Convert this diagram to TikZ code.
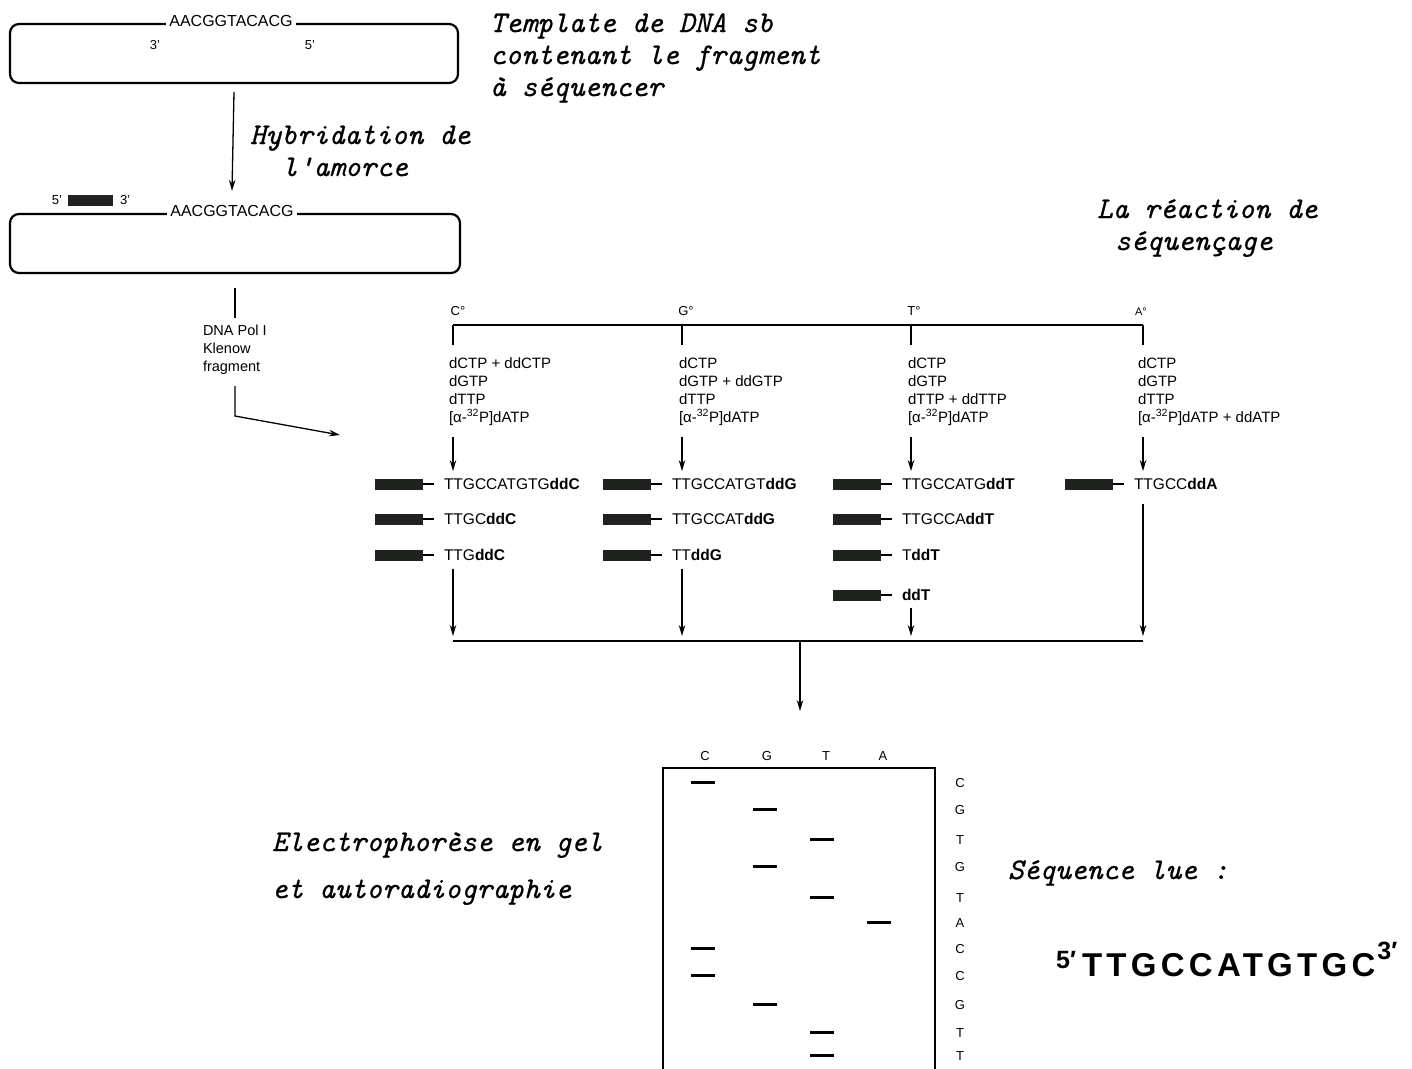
\documentclass[tikz,border=0pt]{standalone}
\usepackage{fontspec}
\newfontfamily\hv{Liberation Sans}
\newfontfamily\hvsp[LetterSpace=13]{Liberation Sans}
\newfontfamily\scr{lmmono10-italic}[Extension=.otf, FakeBold=0.7]
\usetikzlibrary{arrows.meta,calc}
\newcommand\fragm[4]{%
  \node[primer, anchor=west] (#1p) at (#2,#3) {};
  \draw[dashln] (#1p.east) -- ++(11,0);
  \node[fragtext, anchor=west] (#1) at ($(#1p.east)+(21,0)$) {#4};}
\begin{document}
\begin{tikzpicture}[x=1pt,y=-1pt,
  every node/.style={inner sep=0pt, outer sep=0pt},
  sans/.style={font=\hv\fontsize{15}{18}\selectfont},
  fragtext/.style={font=\hv\fontsize{15.5}{18}\selectfont},
  small/.style={font=\hv\fontsize{13}{16}\selectfont},
  script/.style={font=\scr\fontsize{30}{33}\selectfont},
  arr/.style={-{Stealth[length=11pt,width=6.5pt]}, line width=1.3pt},
  ln/.style={line width=1.8pt},
  dashln/.style={line width=1.3pt},
  tmplbox/.style={draw, line width=2.2pt, rounded corners=9pt},
  primer/.style={fill={rgb,255:red,32;green,34;blue,32}, minimum width=48pt, minimum height=11pt},
  band/.style={fill=black, minimum width=24pt, minimum height=3pt},
]
\useasboundingbox (0,0) rectangle (1412,1068);

% ---------- template ----------
\node[tmplbox, minimum width=448pt, minimum height=59pt] (tmpl1) at (234,53.5) {};
\node[font=\hv\fontsize{16}{18}\selectfont, fill=white, inner xsep=3pt, inner ysep=1pt, anchor=base] (seq1) at (231,26) {AACGGTACACG};
\node[small] (t3) at (155,45) {3’};
\node[small] (t5) at (310,45) {5’};

\node[script, anchor=base west] (tpA) at (490,32) {Template de DNA sb};
\node[script, anchor=base west] (tpB) at (490,64) {contenant le fragment};
\node[script, anchor=base west] (tpC) at (490,96) {à séquencer};

% ---------- hybridation ----------
\node[tmplbox, minimum width=450pt, minimum height=59pt] (tmpl2) at (235,243.5) {};
\node[font=\hv\fontsize{16}{18}\selectfont, fill=white, inner xsep=3pt, inner ysep=1pt, anchor=base] (seq2) at (232,216) {AACGGTACACG};
\node[primer, minimum width=45pt, minimum height=11pt] (prim) at (90.5,200) {};
\node[small, anchor=east] (pr5) at ([xshift=-6pt]prim.west) {5’};
\node[small, anchor=west] (pr3) at ([xshift=7pt]prim.east) {3’};

\draw[arr] ([yshift=-9pt]tmpl1.south) -- ([yshift=13pt]seq2.north);
\node[script, anchor=base west] (hyA) at (250,144) {Hybridation de};
\node[script, anchor=base west] (hyB) at (282,176) {l'amorce};

% ---------- Klenow ----------
\node[font=\hv\fontsize{14.5}{16}\selectfont, anchor=base west] (kl1) at (203,335) {DNA Pol I};
\node[font=\hv\fontsize{14.5}{16}\selectfont, anchor=base west] (kl2) at (203,353) {Klenow};
\node[font=\hv\fontsize{14.5}{16}\selectfont, anchor=base west] (kl3) at (203,371) {fragment};
\coordinate (mixin) at (340,435);
\draw[ln] ([yshift=-15pt]tmpl2.south) -- ($(tmpl2.south |- kl1.north)+(0,-6)$);
\draw[arr] ($(tmpl2.south |- kl3.south)+(0,12)$) -- ++(0,30) -- (mixin);

\node[script, anchor=base west] (reA) at (1097,218) {La réaction de};
\node[script, anchor=base west] (reB) at (1115,250) {séquençage};

% ---------- reaction ----------
\coordinate (cC) at (453,325);
\coordinate (cG) at (682,325);
\coordinate (cT) at (911,325);
\coordinate (cA) at (1143,325);
\node[small, anchor=base] (lC) at (458,315) {C°};
\node[small, anchor=base] (lG) at (686,315) {G°};
\node[small, anchor=base] (lT) at (914,315) {T°};
\node[font=\hv\fontsize{11}{13}\selectfont, anchor=base] (lA) at (1141,315) {A°};
\draw[ln] (cC) -- (cA);
\foreach \c in {cC,cG,cT,cA} \draw[ln] (\c) -- ++(0,20);

\foreach \c/\xx/\la/\lb/\lc/\ld in {
  C/449/{dCTP + ddCTP}/{dGTP}/{dTTP}/{[α-\textsuperscript{32}P]dATP},
  G/679/{dCTP}/{dGTP + ddGTP}/{dTTP}/{[α-\textsuperscript{32}P]dATP},
  T/908/{dCTP}/{dGTP}/{dTTP + ddTTP}/{[α-\textsuperscript{32}P]dATP},
  A/1138/{dCTP}/{dGTP}/{dTTP}/{[α-\textsuperscript{32}P]dATP + ddATP}}{
  \node[sans, anchor=base west] (r\c1) at (\xx,368) {\la};
  \node[sans, anchor=base west] (r\c2) at (\xx,386) {\lb};
  \node[sans, anchor=base west] (r\c3) at (\xx,404) {\lc};
  \node[sans, anchor=base west] (r\c4) at (\xx,422) {\ld};
  \draw[arr] ($(c\c |- r\c4.south)+(0,12)$) -- ++(0,34);
}

% fragments
\fragm{fC1}{375}{484}{TTGCCATGTG\textbf{ddC}}
\fragm{fC2}{375}{519}{TTGC\textbf{ddC}}
\fragm{fC3}{375}{555}{TTG\textbf{ddC}}
\fragm{fG1}{603}{484}{TTGCCATGT\textbf{ddG}}
\fragm{fG2}{603}{519}{TTGCCAT\textbf{ddG}}
\fragm{fG3}{603}{555}{TT\textbf{ddG}}
\fragm{fT1}{833}{484}{TTGCCATG\textbf{ddT}}
\fragm{fT2}{833}{519}{TTGCCA\textbf{ddT}}
\fragm{fT3}{833}{555}{T\textbf{ddT}}
\fragm{fT4}{833}{595}{\textbf{ddT}}
\fragm{fA1}{1065}{484}{TTGCC\textbf{ddA}}

\coordinate (bC) at (453,641);
\coordinate (bG) at (682,641);
\coordinate (bT) at (911,641);
\coordinate (bA) at (1143,641);
\coordinate (bM) at (800,641);
\draw[arr] ($(cC |- fC3.south)+(0,8)$) -- ($(bC)+(0,-5)$);
\draw[arr] ($(cG |- fG3.south)+(0,8)$) -- ($(bG)+(0,-5)$);
\draw[arr] ($(cT |- fT4.south)+(0,7)$) -- ($(bT)+(0,-5)$);
\draw[arr] ($(cA |- fA1.south)+(0,14)$) -- ($(bA)+(0,-5)$);
\draw[ln] (bC) -- (bA);
\draw[arr] (bM) -- ++(0,70);

% ---------- gel ----------
\draw[line width=2.2pt] (663,1070) -- (663,768) -- (935,768) -- (935,1070);
\foreach \l/\xx in {C/705,G/767,T/826,A/883}
  \node[small, anchor=base] (g\l) at (\xx,760) {\l};
\foreach \l/\xx/\yy [count=\i] in {C/703/782,G/765/809,T/822/839,G/765/866,T/822/897,A/879/922,C/703/948,C/703/975,G/765/1004,T/822/1032,T/822/1055}{
  \node[band] (bd\i) at (\xx,\yy) {};
  \node[small, anchor=center] (rl\i) at (960,\yy+1) {\l};
}

\node[script, anchor=base west] (elA) at (272,851) {Electrophorèse en gel};
\node[script, anchor=base west] (elB) at (272,898) {et autoradiographie};
\node[script, anchor=base west] (sql) at (1008,879) {Séquence lue :};

\node[font=\hvsp\bfseries\fontsize{33}{35}\selectfont, anchor=base west] (seqr) at (1082,976) {TTGCCATGTGC};
\node[font=\hv\bfseries\fontsize{25}{27}\selectfont, anchor=base east] (s5) at ([xshift=-6pt,yshift=8pt]seqr.base west) {5′};
\node[font=\hv\bfseries\fontsize{25}{27}\selectfont, anchor=base west] (s3) at ([xshift=2pt,yshift=17pt]seqr.base east) {3′};
\end{tikzpicture}
\end{document}
